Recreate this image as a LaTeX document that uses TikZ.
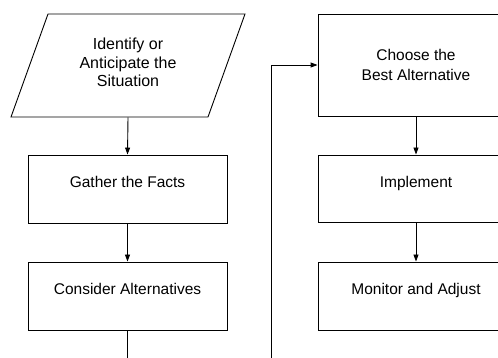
\documentclass[tikz,border=0pt]{standalone}
\usepackage{fontspec}
\setmainfont{Liberation Sans}
\usetikzlibrary{arrows.meta}
\tikzset{
  stepbox/.style={draw, line width=0.9pt, rectangle, inner sep=0pt, align=center,
    font=\fontsize{15.5}{20.5}\selectfont},
  flow/.style={line width=0.9pt, -{Triangle[length=7pt,width=5pt]}},
  plainline/.style={line width=0.9pt}
}
\begin{document}
\begin{tikzpicture}[x=1pt,y=-1pt]
\useasboundingbox (0,0) rectangle (498,358);
\clip (0,0) rectangle (498,358);
% left column
\node[stepbox, draw=none, minimum width=150pt, minimum height=109pt,
  font=\fontsize{16}{18.5}\selectfont] (sit) at (128,62.5)
  {Identify or\\Anticipate the\\Situation};
\draw[plainline] (48,14) -- (245,14) -- (208,117) -- (11,117) -- cycle;
\node[stepbox, minimum width=199pt, minimum height=68pt, text depth=14pt] (gather) at (127.5,189) {Gather the Facts};
\node[stepbox, minimum width=199pt, minimum height=68pt, text depth=14pt] (consider) at (127.5,296) {Consider Alternatives};
\coordinate (outA) at (127.5,362);
% right column
\node[stepbox, minimum width=196pt, minimum height=102pt] (choose) at (416,65)
  {Choose the\\Best Alternative};
\node[stepbox, minimum width=196pt, minimum height=67pt, text depth=14pt] (impl) at (416,188.5) {Implement};
\node[stepbox, minimum width=196pt, minimum height=68pt, text depth=14pt] (monitor) at (416,296) {Monitor and Adjust};
\coordinate (inB) at (271,362);
% connectors
\draw[flow] (sit.south) -- (gather.north);
\draw[flow] (gather.south) -- (consider.north);
\draw[plainline] (consider.south) -- (outA);
\draw[flow] (inB) |- (choose.west);
\draw[flow] (choose.south) -- (impl.north);
\draw[flow] (impl.south) -- (monitor.north);
\end{tikzpicture}
\end{document}
